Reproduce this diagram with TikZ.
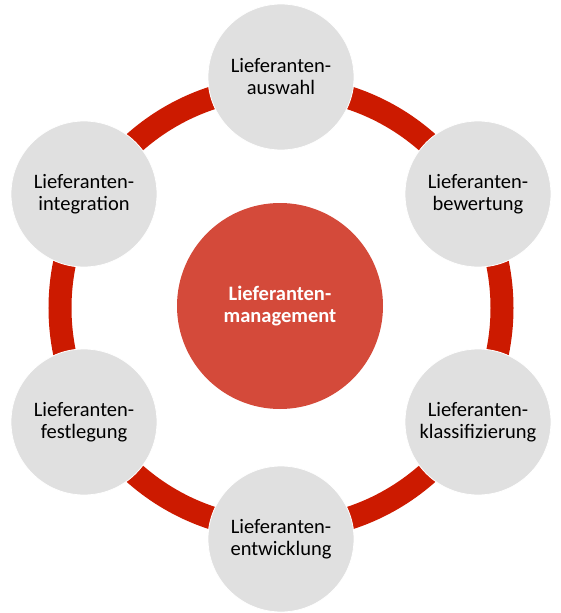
\documentclass[tikz,border=0pt]{standalone}
\usepackage{fontspec}
\setmainfont{Carlito}
\definecolor{ringred}{RGB}{204,26,0}
\definecolor{corered}{RGB}{212,74,58}
\definecolor{petal}{RGB}{224,224,224}
\begin{document}
\begin{tikzpicture}[x=1pt,y=-1pt,
  petalnode/.style={circle,fill=petal,draw=white,line width=0.8pt,minimum size=146pt,inner sep=0pt,align=center,text=black,font=\fontsize{20.5}{22}\selectfont},
  corenode/.style={circle,fill=corered,minimum size=206pt,inner sep=0pt,align=center,text=white,font=\fontsize{20.5}{22}\selectfont\bfseries},
  ringline/.style={draw=ringred,line width=23pt}]
\useasboundingbox (0,0) rectangle (560,613);
\coordinate (c) at (281,308);
\draw[ringline] (c) circle[radius=221];
\node[petalnode] (auswahl) at (281,77) {Lieferanten-\\auswahl};
\node[petalnode] (bewertung) at (478,194) {Lieferanten-\\bewertung};
\node[petalnode] (klass) at (478,422) {Lieferanten-\\klassifizierung};
\node[petalnode] (entw) at (281,539) {Lieferanten-\\entwicklung};
\node[petalnode] (fest) at (84,422) {Lieferanten-\\festlegung};
\node[petalnode] (integ) at (84,194) {Lieferanten-\\integration};
\node[corenode] (core) at (280,306) {Lieferanten-\\management};
\end{tikzpicture}
\end{document}
